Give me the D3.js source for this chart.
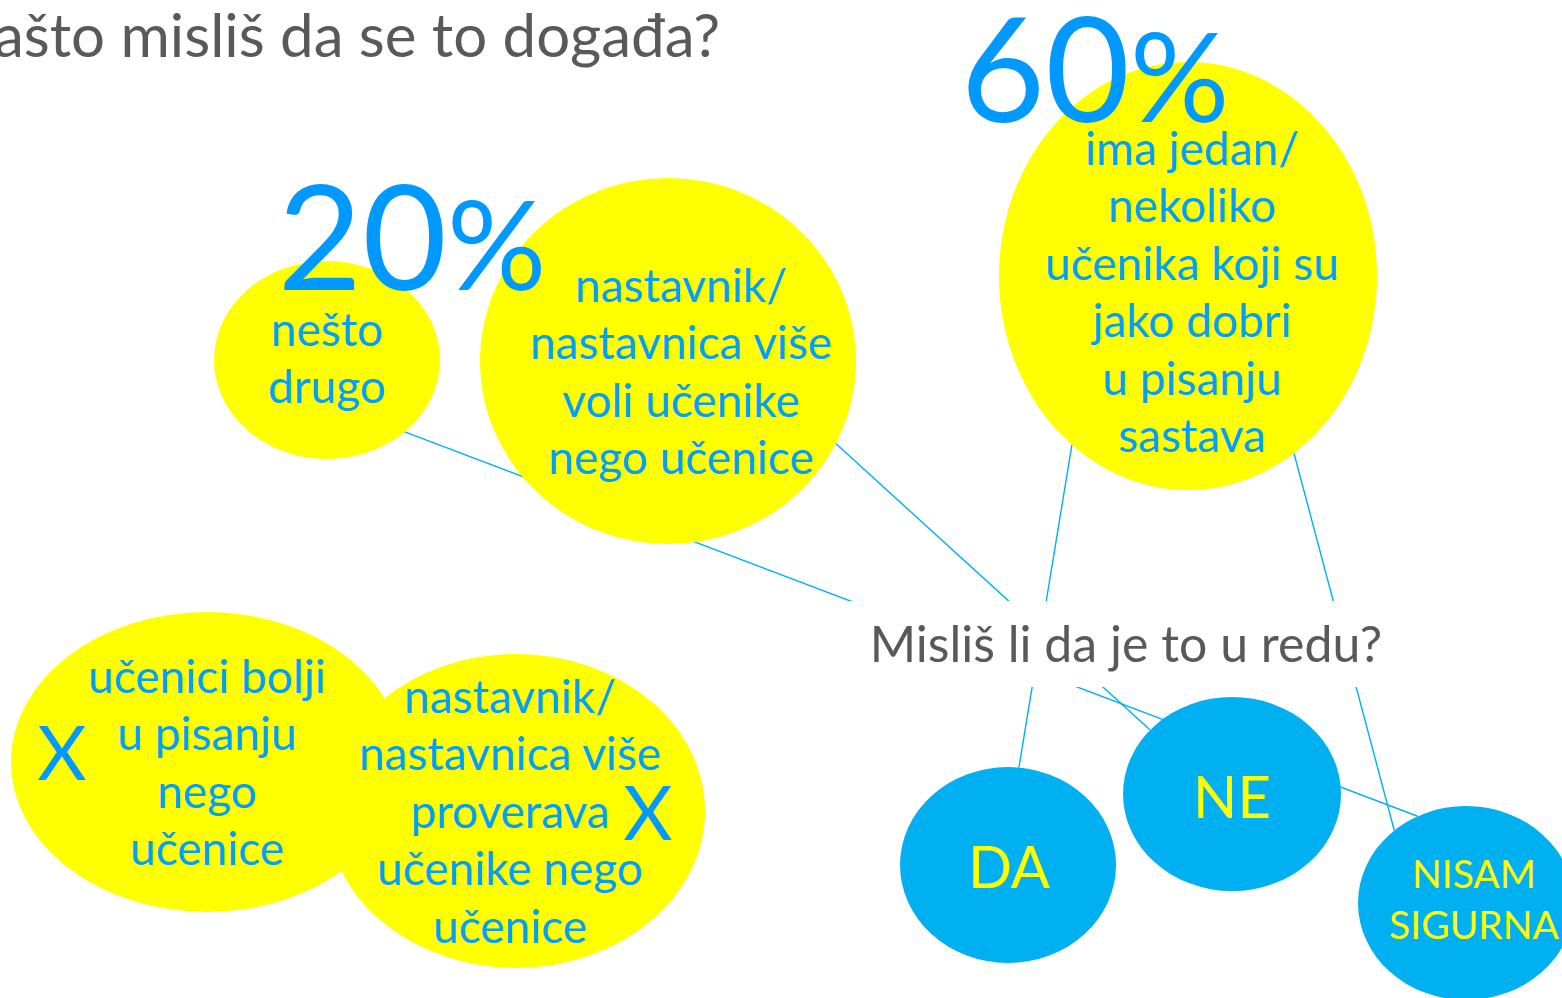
<!DOCTYPE html>
<html>
<head>
<meta charset="utf-8">
<script src="https://cdn.jsdelivr.net/npm/d3@7"></script>
<style>
  body { margin: 0; background: #fff; overflow: hidden; }
  text { font-family: Lato, "Noto Sans", sans-serif; }
</style>
</head>
<body>
<script>

// texts of the slide
var title = "Zašto misliš da se to događa?";
var question = "Misliš li da je to u redu?";

// reasons the children picked (yellow bubbles), with their share
var reasonIds = ["nesto", "voli", "ima"];
var reasonLines = [
  ["nešto", "drugo"],
  ["nastavnik/", "nastavnica više", "voli učenike", "nego učenice"],
  ["ima jedan/", "nekoliko", "učenika koji su", "jako dobri", "u pisanju", "sastava"]
];
var shareValues = [20, 60];
var shareOwners = ["nesto", "ima"];

// reasons nobody picked (crossed out)
var rejectedIds = ["bolji", "proverava"];
var rejectedLines = [
  ["učenici bolji", "u pisanju", "nego", "učenice"],
  ["nastavnik/", "nastavnica više", "proverava", "učenike nego", "učenice"]
];

// answers (blue bubbles)
var answerIds = ["da", "ne", "nisam"];
var answerLines = [["DA"], ["NE"], ["NISAM", "SIGURNA"]];

// connectors
var linkSource = ["nesto", "voli", "ima", "ima"];
var linkTarget = ["nisam", "ne", "da", "nisam"];

var width = 1562, height = 998;

// where things sit on the slide
var layout = {
  nesto:     {cx: 327,  cy: 360, rx: 113, ry: 99,  tx: 327,  ty: 346, size: 46},
  voli:      {cx: 668,  cy: 361, rx: 188, ry: 183, tx: 681,  ty: 302, size: 46},
  ima:       {cx: 1188, cy: 276, rx: 189, ry: 214, tx: 1192, ty: 165, size: 46},
  bolji:     {cx: 207,  cy: 762, rx: 196, ry: 150, tx: 207,  ty: 693, size: 46, xx: 62,  xy: 780},
  proverava: {cx: 516,  cy: 811, rx: 189, ry: 157, tx: 510,  ty: 713, size: 46, xx: 648, xy: 840},
  da:        {cx: 1008, cy: 865, rx: 108, ry: 98,  tx: 1009, ty: 888, size: 58},
  ne:        {cx: 1232, cy: 794, rx: 109, ry: 97,  tx: 1232, ty: 818, size: 58},
  nisam:     {cx: 1466, cy: 903, rx: 108, ry: 97,  tx: 1474, ty: 888, size: 39, lh: 51}
};
var shareLayout = {nesto: {x: 412, y: 290}, ima: {x: 1095, y: 122}};
// angle (deg) on the source / target ellipse where each connector touches
var linkAngles = [[46.5, -116.6], [26.8, -138.7], [127.9, -84.2], [55.9, -131.6]];

var yellow = "#ffff00", blue = "#00b0f0", textBlue = "#00a0f8", bigBlue = "#0099ff", gray = "#595959";
var lineH = 57.4;

var svg = d3.select("body").append("svg")
    .attr("width", width)
    .attr("height", height);

function edgePoint(id, deg) {
  var l = layout[id], a = deg * Math.PI / 180;
  return [l.cx + l.rx * Math.cos(a), l.cy + l.ry * Math.sin(a)];
}

var links = linkSource.map(function(s, i) {
  return {p1: edgePoint(s, linkAngles[i][0]), p2: edgePoint(linkTarget[i], linkAngles[i][1])};
});

// connectors go under everything
svg.append("g").selectAll("line")
    .data(links)
    .enter()
    .append("line")
    .attr("x1", function(d) { return d.p1[0]; })
    .attr("y1", function(d) { return d.p1[1]; })
    .attr("x2", function(d) { return d.p2[0]; })
    .attr("y2", function(d) { return d.p2[1]; })
    .attr("stroke", blue)
    .attr("stroke-width", 1.4);

// white text box of the question hides the lines behind it
svg.append("rect")
    .attr("x", 845).attr("y", 601)
    .attr("width", 560).attr("height", 86)
    .attr("fill", "#fff");

svg.append("text")
    .attr("x", 1126).attr("y", 662)
    .attr("text-anchor", "middle")
    .style("font-size", "50px")
    .style("fill", gray)
    .text(question);

svg.append("text")
    .attr("x", 720).attr("y", 57)
    .attr("text-anchor", "end")
    .style("font-size", "60px")
    .style("fill", gray)
    .text(title);

var bubbles = [];
reasonIds.forEach(function(id, i) { bubbles.push({id: id, lines: reasonLines[i], fill: yellow, color: textBlue}); });
rejectedIds.forEach(function(id, i) { bubbles.push({id: id, lines: rejectedLines[i], fill: yellow, color: textBlue, cross: true}); });
answerIds.forEach(function(id, i) { bubbles.push({id: id, lines: answerLines[i], fill: blue, color: yellow}); });

svg.append("g").selectAll("ellipse")
    .data(bubbles)
    .enter()
    .append("ellipse")
    .attr("cx", function(d) { return layout[d.id].cx; })
    .attr("cy", function(d) { return layout[d.id].cy; })
    .attr("rx", function(d) { return layout[d.id].rx; })
    .attr("ry", function(d) { return layout[d.id].ry; })
    .attr("fill", function(d) { return d.fill; });

var labels = svg.append("g").selectAll("text")
    .data(bubbles)
    .enter()
    .append("text")
    .attr("text-anchor", "middle")
    .style("font-size", function(d) { return layout[d.id].size + "px"; })
    .style("fill", function(d) { return d.color; });

labels.selectAll("tspan")
    .data(function(d) { return d.lines.map(function(t) { return {t: t, l: layout[d.id]}; }); })
    .enter()
    .append("tspan")
    .attr("x", function(d) { return d.l.tx; })
    .attr("y", function(d, i) { return d.l.ty + i * (d.l.lh || lineH); })
    .text(function(d) { return d.t; });

// crosses on the rejected reasons
svg.append("g").selectAll("text")
    .data(bubbles.filter(function(d) { return d.cross; }))
    .enter()
    .append("text")
    .attr("x", function(d) { return layout[d.id].xx; })
    .attr("y", function(d) { return layout[d.id].xy; })
    .attr("text-anchor", "middle")
    .style("font-size", "76px")
    .style("fill", bigBlue)
    .text("X");

// big percentages, the % sign a bit smaller
var shares = svg.append("g").selectAll("text")
    .data(shareValues)
    .enter()
    .append("text")
    .attr("x", function(d, i) { return shareLayout[shareOwners[i]].x; })
    .attr("y", function(d, i) { return shareLayout[shareOwners[i]].y; })
    .attr("text-anchor", "middle")
    .style("font-size", "146px")
    .style("fill", bigBlue);
shares.append("tspan").text(function(d) { return d; });
shares.append("tspan").style("font-size", "124px").text("%");

</script>
</body>
</html>
